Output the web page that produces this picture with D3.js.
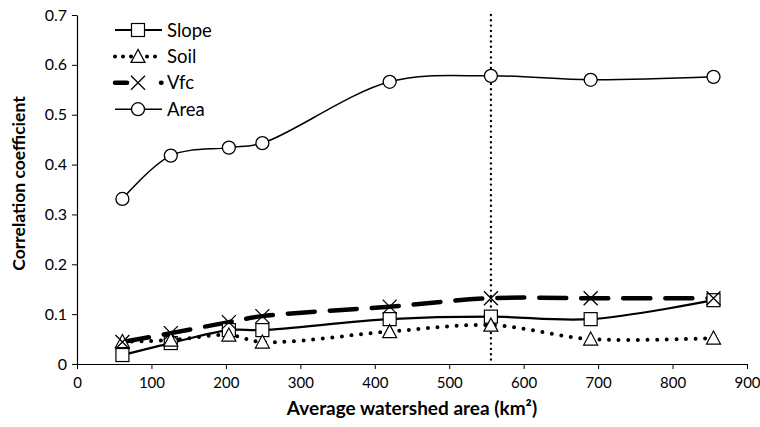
<!DOCTYPE html>
<html>
<head>
<meta charset="utf-8">
<script src="https://cdn.jsdelivr.net/npm/d3@7"></script>
<style>
  body { margin: 0; background: #fff; }
  text { font-family: Lato, "Open Sans", sans-serif; fill: #000; }
</style>
</head>
<body>
<div id="chart"></div>
<script>
// watershed area (km2) and correlation per factor
const areas = [61, 126, 204, 249, 420, 556, 690, 855];
const slope = [0.018, 0.042, 0.068, 0.068, 0.090, 0.095, 0.090, 0.128];
const soil  = [0.045, 0.048, 0.058, 0.044, 0.065, 0.078, 0.050, 0.052];
const vfc   = [0.044, 0.062, 0.084, 0.096, 0.115, 0.132, 0.132, 0.132];
const area  = [0.331, 0.418, 0.434, 0.443, 0.566, 0.578, 0.570, 0.576];
const xTicks = [0, 100, 200, 300, 400, 500, 600, 700, 800, 900];
const yTicks = [0, 0.1, 0.2, 0.3, 0.4, 0.5, 0.6, 0.7];
const markerLine = 556;

const width = 760, height = 427;
const margin = { top: 15, right: 13, bottom: 63, left: 77 };

const svg = d3.select('#chart').append('svg')
    .attr('width', width)
    .attr('height', height);

const x = d3.scaleLinear().domain([0, 900]).range([margin.left, width - margin.right]);
const y = d3.scaleLinear().domain([0, 0.7]).range([height - margin.bottom, margin.top]);

// axes
const xAxis = svg.append('g')
    .attr('transform', `translate(0,${y(0)})`)
    .call(d3.axisBottom(x).tickValues(xTicks).tickSize(5).tickSizeOuter(0).tickFormat(d3.format('d')));
xAxis.select('.domain').attr('stroke', '#000').attr('stroke-width', 1.2);
xAxis.selectAll('.tick line').attr('stroke', '#000');
xAxis.selectAll('.tick text').attr('dy', '1.05em').style('font-size', '15px');

const yAxis = svg.append('g')
    .attr('transform', `translate(${x(0)},0)`)
    .call(d3.axisLeft(y).tickValues(yTicks).tickSize(5).tickSizeOuter(0).tickFormat(d => d === 0 ? '0' : d3.format('.1f')(d)));
yAxis.select('.domain').attr('stroke', '#000').attr('stroke-width', 1.2);
yAxis.selectAll('.tick line').attr('stroke', '#000');
yAxis.selectAll('.tick text').attr('x', -10).style('font-size', '16px');

// axis titles
svg.append('text')
    .attr('x', 412)
    .attr('y', 415)
    .attr('text-anchor', 'middle')
    .style('font-size', '19px')
    .style('font-weight', 'bold')
    .text('Average watershed area (km²)');

svg.append('text')
    .attr('transform', `translate(25,${(y(0) + y(0.7)) / 2 - 6}) rotate(-90)`)
    .attr('text-anchor', 'middle')
    .style('font-size', '17.5px')
    .style('font-weight', 'bold')
    .text('Correlation coefficient');

// vertical dotted reference line
svg.append('line')
    .attr('x1', x(markerLine)).attr('x2', x(markerLine))
    .attr('y1', y(0.7)).attr('y2', y(0))
    .attr('stroke', '#000')
    .attr('stroke-width', 2.4)
    .attr('stroke-linecap', 'round')
    .attr('stroke-dasharray', '0 5.3');

const series = [
    { name: 'Slope', values: slope, width: 2.2, dash: null, legendDash: null, cap: 'butt', marker: 'square' },
    { name: 'Soil', values: soil, width: 4, dash: '0 9.6', legendDash: '0 8', cap: 'round', marker: 'triangle' },
    { name: 'Vfc', values: vfc, width: 4.5, dash: '27 15', legendDash: '12 34 0.5 50', cap: 'round', marker: 'cross' },
    { name: 'Area', values: area, width: 1.5, dash: null, legendDash: null, cap: 'butt', marker: 'circle' }
];

const line = d3.line()
    .x(d => x(d[0]))
    .y(d => y(d[1]))
    .curve(d3.curveCatmullRom.alpha(0.5));

function drawMarker(g, type, cx, cy) {
    if (type === 'square') {
        g.append('rect').attr('x', cx - 6.5).attr('y', cy - 6.5).attr('width', 13).attr('height', 13)
            .attr('fill', '#fff').attr('stroke', '#000').attr('stroke-width', 1.2);
    } else if (type === 'triangle') {
        g.append('path').attr('d', `M${cx},${cy - 7}L${cx + 7},${cy + 6}L${cx - 7},${cy + 6}Z`)
            .attr('fill', '#fff').attr('stroke', '#000').attr('stroke-width', 1.2);
    } else if (type === 'cross') {
        g.append('path').attr('d', `M${cx - 7},${cy - 7}L${cx + 7},${cy + 7}M${cx + 7},${cy - 7}L${cx - 7},${cy + 7}`)
            .attr('fill', 'none').attr('stroke', '#000').attr('stroke-width', 1.3);
    } else {
        g.append('circle').attr('cx', cx).attr('cy', cy).attr('r', 6.5)
            .attr('fill', '#fff').attr('stroke', '#000').attr('stroke-width', 1.3);
    }
}

series.forEach(s => {
    const pts = areas.map((a, i) => [a, s.values[i]]);
    svg.append('path')
        .attr('d', line(pts))
        .attr('fill', 'none')
        .attr('stroke', '#000')
        .attr('stroke-width', s.width)
        .attr('stroke-linecap', s.cap)
        .attr('stroke-dasharray', s.dash);
});

// markers drawn after lines, in series order
series.forEach(s => {
    const g = svg.append('g');
    areas.forEach((a, i) => drawMarker(g, s.marker, x(a), y(s.values[i])));
});

// legend
const legend = svg.append('g');
series.forEach((s, i) => {
    const ly = 30 + i * 26.4;
    legend.append('line')
        .attr('x1', 115).attr('x2', 162)
        .attr('y1', ly).attr('y2', ly)
        .attr('stroke', '#000')
        .attr('stroke-width', s.width)
        .attr('stroke-linecap', s.cap)
        .attr('stroke-dasharray', s.legendDash);
    drawMarker(legend, s.marker, 138, ly);
    legend.append('text')
        .attr('x', 167)
        .attr('y', ly)
        .attr('dy', '0.36em')
        .style('font-size', '18.5px')
        .text(s.name);
});
</script>
</body>
</html>
